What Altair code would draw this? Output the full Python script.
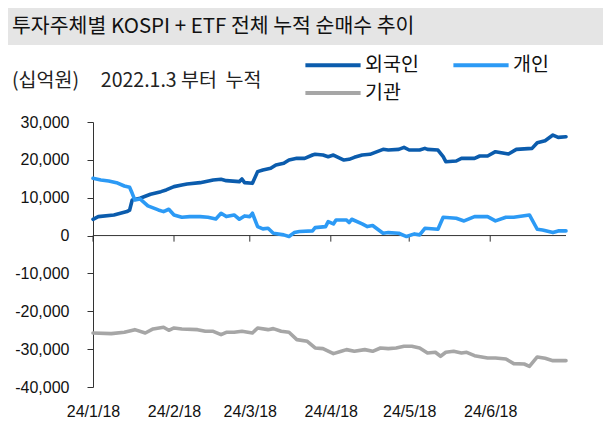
import altair as alt
import pandas as pd

# ---------------- data ----------------
series_names = ["외국인", "개인", "기관"]
series_colors = ["#0B5CAD", "#2C9AF5", "#A6A6A6"]

foreign_dates = ["01-18", "01-20", "01-26", "01-31", "02-01", "02-02", "02-05", "02-09", "02-13", "02-15",
                 "02-18", "02-21", "02-23", "02-28", "03-04", "03-07", "03-09", "03-14", "03-15", "03-16",
                 "03-19", "03-21", "03-23", "03-26", "03-28", "03-31", "04-02", "04-05", "04-08", "04-11",
                 "04-12", "04-15", "04-17", "04-19", "04-23", "04-25", "04-27", "04-30", "05-03", "05-08",
                 "05-10", "05-14", "05-16", "05-18", "05-22", "05-24", "05-25", "05-29", "05-31", "06-01",
                 "06-05", "06-07", "06-12", "06-14", "06-17", "06-20", "06-25", "06-28", "07-04", "07-06",
                 "07-09", "07-12", "07-14", "07-17"]
foreign_values = [4300, 5000, 5450, 6330, 6700, 9400, 9850, 10900, 11600, 12050,
                  12930, 13370, 13630, 13980, 14690, 14860, 14510, 14250, 14950, 13980,
                  13800, 16890, 17330, 17770, 18650, 19090, 19960, 20400, 20400, 21280,
                  21500, 21280, 20840, 21280, 19960, 20140, 20670, 21280, 21460, 22780,
                  22600, 22780, 23300, 22600, 22600, 23040, 22780, 22600, 20840, 19520,
                  19700, 20400, 20400, 21020, 21020, 22160, 21550, 22780, 23040, 24540,
                  25070, 26560, 25950, 26120]

indiv_dates = ["01-18", "01-21", "01-24", "01-27", "01-30", "02-01", "02-02", "02-03", "02-05", "02-08",
               "02-12", "02-14", "02-16", "02-18", "02-21", "02-24", "02-28", "03-02", "03-05", "03-07",
               "03-09", "03-12", "03-14", "03-16", "03-18", "03-19", "03-21", "03-23", "03-25", "03-27",
               "03-31", "04-02", "04-04", "04-06", "04-11", "04-12", "04-16", "04-17", "04-19", "04-20",
               "04-24", "04-25", "04-26", "04-30", "05-02", "05-04", "05-08", "05-10", "05-14", "05-17",
               "05-20", "05-22", "05-24", "05-29", "05-31", "06-05", "06-08", "06-12", "06-17", "06-20",
               "06-24", "06-27", "07-03", "07-06", "07-08", "07-12", "07-14", "07-17"]
indiv_values = [15130, 14690, 14420, 13980, 13100, 12750, 11170, 9410, 9680, 7830,
                6770, 6330, 6950, 5450, 4840, 5010, 5010, 4840, 4400, 5890,
                5010, 5450, 4310, 5190, 5010, 5890, 2370, 1760, 1940, 620,
                180, -260, 790, 1060, 1230, 2110, 2370, 3690, 3080, 4130,
                4130, 3430, 4310, 3080, 2370, 2640, 620, 790, 620, -260,
                440, 180, 1930, 1670, 4840, 4570, 3870, 5010, 5010, 3870,
                4840, 4840, 5450, 1670, 1490, 790, 1230, 1230]

inst_dates = ["01-18", "01-25", "01-30", "02-03", "02-07", "02-10", "02-14", "02-16", "02-18", "02-21",
              "02-27", "03-01", "03-04", "03-07", "03-09", "03-12", "03-15", "03-19", "03-21", "03-25",
              "03-27", "03-30", "04-02", "04-05", "04-09", "04-12", "04-15", "04-19", "04-22", "04-24",
              "04-27", "05-01", "05-04", "05-07", "05-10", "05-13", "05-16", "05-19", "05-22", "05-25",
              "05-28", "05-30", "06-01", "06-04", "06-07", "06-09", "06-12", "06-17", "06-20", "06-24",
              "06-27", "07-01", "07-03", "07-06", "07-09", "07-12", "07-17"]
inst_values = [-25730, -25900, -25550, -24850, -25730, -24670, -24230, -25020, -24400, -24670,
               -24850, -25290, -25290, -26170, -25550, -25550, -25290, -25730, -24400, -24850,
               -24580, -25290, -25550, -27490, -27930, -29690, -29870, -31190, -30570, -30130,
               -30570, -30130, -30570, -29690, -29870, -29690, -29250, -29250, -29690, -31010,
               -30830, -31890, -30830, -30570, -31010, -30830, -31720, -32330, -32330, -32600,
               -33830, -33920, -34540, -32060, -32420, -33040, -33040]

x_tick_dates = ["2024-01-18", "2024-02-18", "2024-03-18", "2024-04-18", "2024-05-18", "2024-06-18"]
y_tick_values = [-40000, -30000, -20000, -10000, 0, 10000, 20000, 30000]

title_text = "투자주체별 KOSPI + ETF 전체 누적 순매수 추이"
subtitle_text = "(십억원)\u00a0\u00a0\u00a0\u00a0\u00a02022.1.3 부터\u00a0 누적"

# ---------------- build tables ----------------
def frame(name, dates, values):
    return pd.DataFrame({
        "date": pd.to_datetime(["2024-" + d for d in dates]),
        "value": values,
        "series": name,
    })

df = pd.concat([
    frame(series_names[0], foreign_dates, foreign_values),
    frame(series_names[1], indiv_dates, indiv_values),
    frame(series_names[2], inst_dates, inst_values),
], ignore_index=True)

# x-axis tick marks sit on the zero line and hang ~1,600 units below it
ticks_df = pd.DataFrame({"date": pd.to_datetime(x_tick_dates), "top": 0, "bottom": -1600})
zero_df = pd.DataFrame({"value": [0]})
band_df = pd.DataFrame({"k": [0]})

# ---------------- styling ----------------
W, H = 473, 265
NUM_FONT = "Liberation Sans, Arial, sans-serif"
KR_FONT = "Noto Sans CJK KR"
AXIS_COLOR = "#333333"

x_scale = alt.Scale(domain=[alt.DateTime(year=2024, month=1, date=18),
                            alt.DateTime(year=2024, month=7, date=17)])
y_scale = alt.Scale(domain=[-40000, 30000], nice=False, zero=False)

x_axis = alt.Axis(
    values=[alt.DateTime(year=int(d[:4]), month=int(d[5:7]), date=int(d[8:])) for d in x_tick_dates],
    format="%y/%-m/%d", domain=False, ticks=False, grid=False,
    labelFont=NUM_FONT, labelFontSize=16, labelColor="#111111",
    labelPadding=16, labelFlush=False, labelOverlap=False, labelBound=False, title=None,
)
y_axis = alt.Axis(
    values=y_tick_values, tickCount=len(y_tick_values), grid=False,
    domainColor=AXIS_COLOR, domainWidth=1,
    tickColor=AXIS_COLOR, tickSize=6, tickWidth=1,
    labelFont=NUM_FONT, labelFontSize=16, labelColor="#111111", labelPadding=18,
    labelOverlap=False, labelBound=False,
    labelExpr="replace(format(datum.value, ','), '\u2212', '-')", title=None,
)

band = alt.Chart(band_df).mark_rect(color="#E5E5E5").encode(
    x=alt.value(-85), x2=alt.value(W + 37), y=alt.value(-114), y2=alt.value(-77)
)

zero_rule = alt.Chart(zero_df).mark_rule(color=AXIS_COLOR, strokeWidth=1).encode(
    y=alt.Y("value:Q", scale=y_scale, axis=y_axis)
)

tick_rules = alt.Chart(ticks_df).mark_rule(color=AXIS_COLOR, strokeWidth=1).encode(
    x=alt.X("date:T", scale=x_scale, axis=x_axis),
    y=alt.Y("top:Q", scale=y_scale, axis=y_axis),
    y2="bottom:Q",
)

lines = alt.Chart(df).mark_line(strokeWidth=3.6, strokeJoin="round", strokeCap="round").encode(
    x=alt.X("date:T", scale=x_scale, axis=x_axis),
    y=alt.Y("value:Q", scale=y_scale, axis=y_axis),
    color=alt.Color(
        "series:N",
        scale=alt.Scale(domain=series_names, range=series_colors),
        legend=alt.Legend(
            title=None, orient="none", legendX=230, legendY=-67,
            direction="horizontal", columns=2,
            symbolType="M-3.45,0H3.45", symbolSize=256, symbolStrokeWidth=4,
            symbolFillColor="transparent",
            labelFont=KR_FONT, labelFontSize=19.5, labelColor="#111111", labelOffset=22,
            columnPadding=26, rowPadding=8, padding=0, labelLimit=200,
        ),
    ),
    order=alt.Order("date:T"),
)

chart = alt.layer(band, zero_rule, tick_rules, lines).properties(
    width=W, height=H,
    autosize=alt.AutoSizeParams(type="none"),
    padding={"left": 85, "top": 114, "right": 37, "bottom": 35},
    title=alt.TitleParams(
        text=title_text, subtitle=subtitle_text,
        anchor="start", frame="group", orient="top", dx=-81, dy=82, offset=0,
        font=KR_FONT, fontSize=20.5, fontWeight="normal", color="#111111",
        subtitleFont=KR_FONT, subtitleFontSize=19.5, subtitleColor="#222222",
        subtitlePadding=34, zindex=1,
    ),
).configure_view(stroke=None)

chart.save("out.html", embed_options={"renderer": "svg", "actions": False})
